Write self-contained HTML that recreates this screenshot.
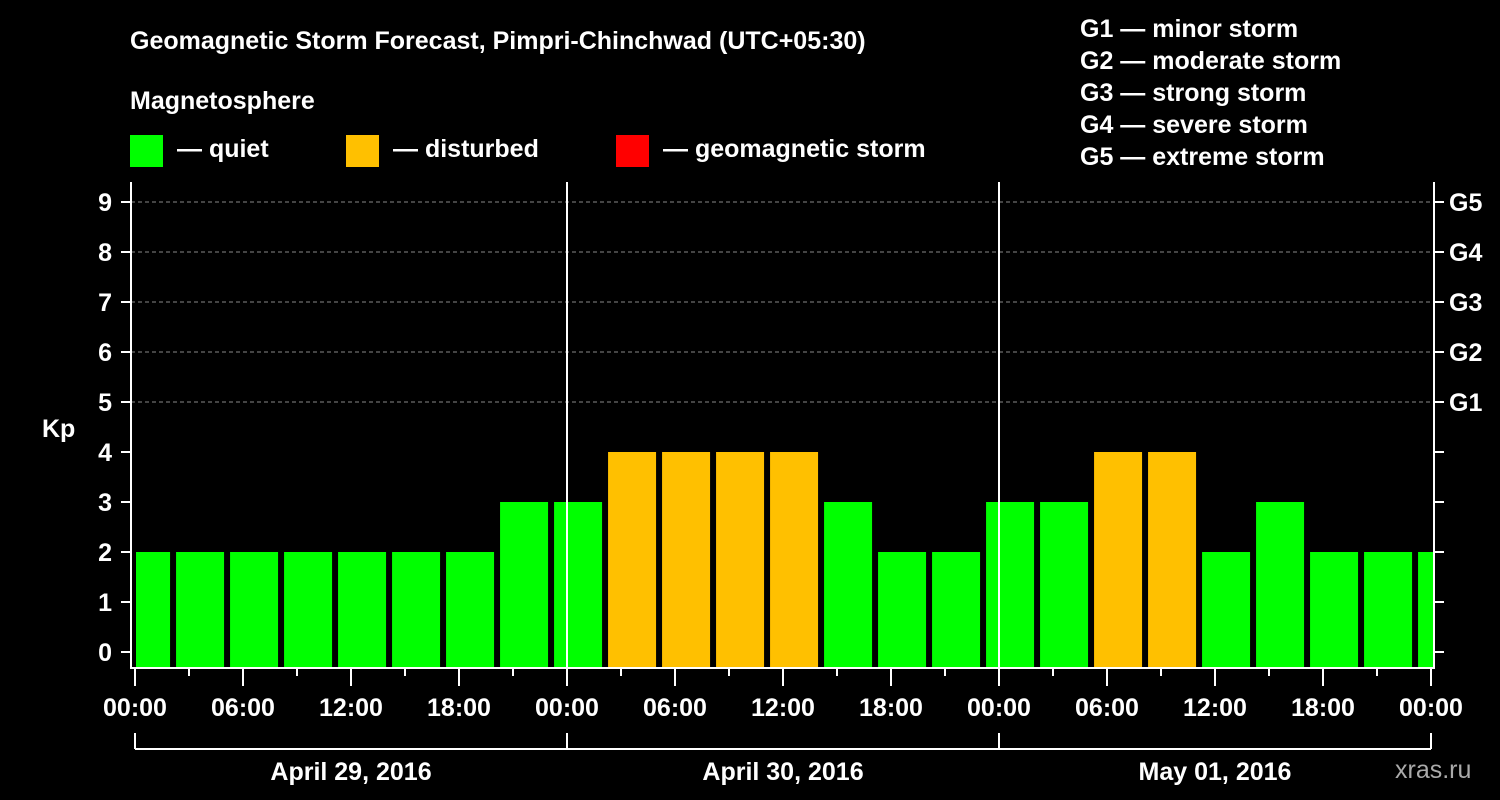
<!DOCTYPE html>
<html><head><meta charset="utf-8"><style>
html,body{margin:0;padding:0;background:#000;}
svg{display:block;font-family:"Liberation Sans",Arial,sans-serif;font-weight:bold;}
</style></head><body>
<svg width="1500" height="800" viewBox="0 0 1500 800">
<rect width="1500" height="800" fill="#000"/>
<text x="130" y="49" fill="#fff" font-size="25">Geomagnetic Storm Forecast, Pimpri-Chinchwad (UTC+05:30)</text>
<text x="130" y="109" fill="#fff" font-size="25">Magnetosphere</text>
<g><rect x="130" y="135" width="33" height="32" fill="#00ff00"/><text x="177" y="157" fill="#fff" font-size="25">— quiet</text></g>
<g><rect x="346" y="135" width="33" height="32" fill="#ffc000"/><text x="393" y="157" fill="#fff" font-size="25">— disturbed</text></g>
<g><rect x="616" y="135" width="33" height="32" fill="#ff0000"/><text x="663" y="157" fill="#fff" font-size="25">— geomagnetic storm</text></g>
<g fill="#fff" font-size="25">
<text x="1080" y="37">G1 — minor storm</text><text x="1080" y="69">G2 — moderate storm</text><text x="1080" y="101">G3 — strong storm</text><text x="1080" y="133">G4 — severe storm</text><text x="1080" y="165">G5 — extreme storm</text>
</g>
<text x="42" y="437" fill="#fff" font-size="25">Kp</text>
<text x="1395" y="778" fill="#aaa" font-size="25" font-weight="normal">xras.ru</text>
<g id="plot"></g>
</svg>
<script>
const kpValues=[2,2,2,2,2,2,2,3,3,4,4,4,4,3,2,2,3,3,4,4,2,3,2,2,2];
const timeLabels=["00:00","06:00","12:00","18:00"];
const dateLabels=["April 29, 2016","April 30, 2016","May 01, 2016"];
const gLabels=["G1","G2","G3","G4","G5"];
const NS="http://www.w3.org/2000/svg";
const g=document.getElementById('plot');
const L=131,R=1434,T=182,B=668,X0=135,DAY=432;
const y=v=>652-50*v;
const xh=h=>X0+h*18;
function mk(t,a,p){const e=document.createElementNS(NS,t);for(const k in a)e.setAttribute(k,a[k]);(p||g).appendChild(e);return e;}
// bars: first bar starts at -2.17h (clipped), 3h bins
const cl=mk('clipPath',{id:'c'});mk('rect',{x:L+5,y:T,width:R-L-6,height:B-T},cl);
const bg=mk('g',{'clip-path':'url(#c)'});
kpValues.forEach((v,i)=>{const h0=-0.83+3*(i-1)+3-3+ (i===0?-3:0)*0;const start=xh(2.17+3*(i-1))+2;
 const r=mk('rect',{x:start,y:y(v),width:48,height:B-y(v),fill:v>=5?'#ff0000':(v>=4?'#ffc000':'#00ff00')},bg);
 
 });
// grid
for(let k=5;k<=9;k++){const l=mk('line',{x1:L,x2:R,y1:y(k),y2:y(k),stroke:'#888','stroke-dasharray':'4,3'});
 }
// day separators
for(let d=1;d<=2;d++){const l=mk('line',{x1:X0+d*DAY,x2:X0+d*DAY,y1:T,y2:B,stroke:'#fff','stroke-width':2});
 }
// frame
const f=mk('path',{d:`M${L},${T}V${B}H${R}V${T}`,fill:'none',stroke:'#fff','stroke-width':2});

// y ticks
for(let k=0;k<=9;k++){mk('line',{x1:L-10,x2:L,y1:y(k),y2:y(k),stroke:'#fff','stroke-width':2});
 mk('line',{x1:R,x2:R+10,y1:y(k),y2:y(k),stroke:'#fff','stroke-width':2});
 const t=mk('text',{x:L-19,y:y(k)+9,fill:'#fff','font-size':25,'text-anchor':'end'});t.textContent=k;
 }
gLabels.forEach((s,i)=>{const t=mk('text',{x:1449,y:y(5+i)+9,fill:'#fff','font-size':25});t.textContent=s;
 });
// x ticks
for(let h=0;h<=72;h+=3){const maj=h%6===0;mk('line',{x1:xh(h),x2:xh(h),y1:B,y2:B+(maj?18:8),stroke:'#fff','stroke-width':2});
 if(maj){const t=mk('text',{x:xh(h),y:716,fill:'#fff','font-size':25,'text-anchor':'middle'});t.textContent=timeLabels[(h/6)%4];
 }}
// date bracket
mk('line',{x1:X0,x2:X0+3*DAY,y1:749,y2:749,stroke:'#fff','stroke-width':2});
for(let d=0;d<=3;d++)mk('line',{x1:X0+d*DAY,x2:X0+d*DAY,y1:733,y2:749,stroke:'#fff','stroke-width':2});
dateLabels.forEach((s,i)=>{const t=mk('text',{x:X0+(i+0.5)*DAY,y:780,fill:'#fff','font-size':25,'text-anchor':'middle'});t.textContent=s;
 });
</script>
</body></html>
